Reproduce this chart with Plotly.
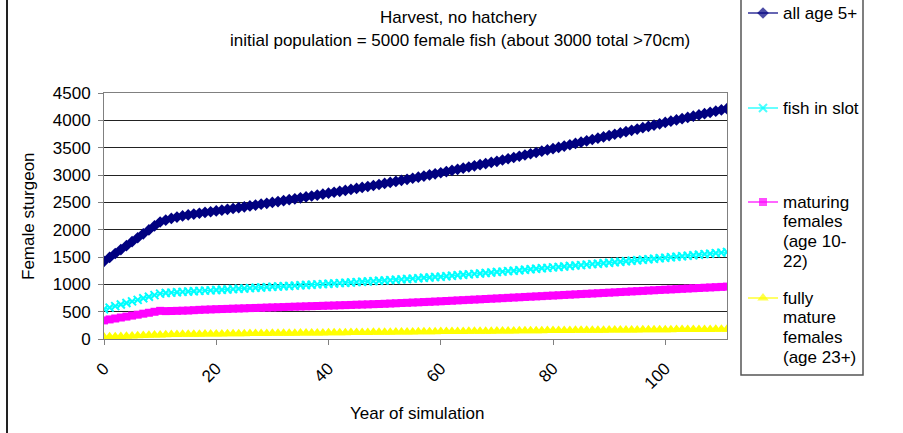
import plotly.graph_objects as go

W, H = 903, 433

# ---------------- data ----------------
years = list(range(112))

all_age5 = [
    1420, 1492, 1564, 1636, 1708, 1780, 1852, 1924, 1996, 2068,
    2140, 2175, 2205, 2230, 2252, 2270, 2285, 2300, 2315, 2328,
    2342, 2357, 2372, 2387, 2402, 2418, 2434, 2450, 2466, 2482,
    2498, 2514, 2531, 2548, 2565, 2582, 2599, 2616, 2633, 2650,
    2667, 2684, 2701, 2718, 2736, 2754, 2772, 2790, 2808, 2826,
    2845, 2864, 2883, 2902, 2921, 2941, 2961, 2981, 3001, 3021,
    3041, 3062, 3083, 3104, 3125, 3146, 3167, 3188, 3209, 3230,
    3251, 3274, 3297, 3320, 3343, 3366, 3389, 3412, 3435, 3458,
    3481, 3505, 3529, 3553, 3577, 3601, 3625, 3649, 3673, 3697,
    3721, 3745, 3769, 3793, 3817, 3841, 3865, 3889, 3913, 3937,
    3961, 3984, 4007, 4030, 4053, 4076, 4099, 4122, 4145, 4168,
    4191, 4214,
]

fish_in_slot = [
    545, 574, 602, 631, 659, 688, 716, 745, 773, 802,
    830, 840, 848, 855, 862, 868, 874, 880, 885, 890,
    895, 901, 907, 913, 919, 925, 931, 937, 943, 949,
    955, 960, 966, 971, 977, 982, 988, 993, 999, 1004,
    1010, 1016, 1022, 1028, 1034, 1040, 1046, 1052, 1058, 1064,
    1070, 1077, 1084, 1091, 1098, 1105, 1112, 1119, 1126, 1133,
    1140, 1148, 1157, 1165, 1174, 1182, 1191, 1199, 1208, 1216,
    1225, 1233, 1242, 1250, 1259, 1267, 1276, 1284, 1293, 1301,
    1310, 1318, 1327, 1335, 1344, 1352, 1361, 1369, 1378, 1386,
    1395, 1404, 1413, 1422, 1431, 1440, 1449, 1458, 1467, 1476,
    1485, 1495, 1504, 1514, 1523, 1533, 1542, 1552, 1561, 1571,
    1580, 1590,
]

maturing_females = [
    340, 358, 375, 393, 410, 428, 445, 463, 480, 498,
    515, 510, 512, 515, 518, 521, 527, 533, 537, 541,
    545, 548, 551, 555, 558, 561, 565, 568, 571, 575,
    578, 581, 584, 588, 591, 594, 597, 601, 604, 607,
    610, 613, 617, 620, 623, 627, 630, 633, 637, 640,
    644, 649, 653, 658, 662, 667, 671, 676, 680, 685,
    690, 695, 700, 706, 711, 716, 721, 726, 732, 737,
    742, 747, 753, 758, 763, 769, 774, 779, 784, 790,
    795, 800, 806, 811, 816, 822, 827, 832, 837, 843,
    848, 853, 859, 864, 870, 875, 880, 886, 891, 897,
    902, 907, 912, 918, 923, 928, 933, 938, 943, 948,
    953, 958,
]

fully_mature = [
    35, 39, 43, 47, 51, 55, 59, 63, 67, 71,
    75, 78, 81, 83, 85, 86, 87, 89, 90, 91,
    92, 93, 94, 95, 97, 98, 99, 100, 101, 102,
    103, 104, 105, 106, 107, 108, 109, 110, 111, 112,
    113, 114, 115, 116, 117, 118, 120, 121, 122, 123,
    124, 125, 126, 127, 128, 129, 131, 132, 133, 134,
    135, 136, 137, 138, 139, 140, 141, 142, 143, 144,
    145, 146, 147, 148, 149, 150, 151, 152, 153, 154,
    155, 156, 157, 157, 158, 159, 160, 161, 161, 162,
    163, 164, 164, 165, 166, 166, 167, 168, 168, 169,
    170, 171, 172, 172, 173, 174, 175, 175, 176, 177,
    177, 178,
]

legend_labels = [
    ["all age 5+"],
    ["fish in slot"],
    ["maturing", "females", "(age 10-", "22)"],
    ["fully", "mature", "females", "(age 23+)"],
]

x_tick_vals = [0, 20, 40, 60, 80, 100]
y_tick_vals = [0, 500, 1000, 1500, 2000, 2500, 3000, 3500, 4000, 4500]

title_line1 = "Harvest, no hatchery"
title_line2 = "initial population = 5000 female fish (about 3000 total >70cm)"
x_title = "Year of simulation"
y_title = "Female sturgeon"

# ---------------- styles / layout ----------------
FONT = "Liberation Sans, Arial, sans-serif"
FS = 17
styles = [
    dict(color="#000080", symbol="diamond", size=9, lw=1),
    dict(color="#00FFFF", symbol="x-thin", size=8, lw=1),
    dict(color="#FF00FF", symbol="square", size=8, lw=1),
    dict(color="#FFFF00", symbol="triangle-up", size=10, lw=1),
]
series = [all_age5, fish_in_slot, maturing_females, fully_mature]

PLOT_L, PLOT_R, PLOT_T, PLOT_B = 104, 727, 93, 339


def fx(p):
    return p / W


def fy(p):
    return 1 - p / H


fig = go.Figure()

for vals, st, lab in zip(series, styles, legend_labels):
    marker = dict(symbol=st["symbol"], size=st["size"], color=st["color"],
                  line=dict(color=st["color"], width=2 if st["symbol"] == "x-thin" else 0))
    fig.add_trace(go.Scatter(
        x=years, y=vals, mode="lines+markers", name=" ".join(lab),
        line=dict(color=st["color"], width=st["lw"]), marker=marker,
        showlegend=False, xaxis="x", yaxis="y",
    ))

# manual legend (overlay axes in pixel units)
LEG_L, LEG_R, LEG_B = 741, 863, 375
sample_x0, sample_x1, text_x = 748, 778, 781
item_y = [13, 108, 202, 298]
line_gap = 19.8
for st, lab, yy in zip(styles, legend_labels, item_y):
    marker = dict(symbol=st["symbol"], size=[0, st["size"], 0], color=st["color"],
                  line=dict(color=st["color"], width=2 if st["symbol"] == "x-thin" else 0))
    fig.add_trace(go.Scatter(
        x=[sample_x0, (sample_x0 + sample_x1) / 2, sample_x1], y=[yy, yy, yy],
        mode="lines+markers", line=dict(color=st["color"], width=1.2), marker=marker,
        showlegend=False, hoverinfo="skip", xaxis="x2", yaxis="y2", cliponaxis=False,
    ))
    for k, txt in enumerate(lab):
        fig.add_annotation(x=fx(text_x), y=fy(yy + k * line_gap), xref="paper", yref="paper",
                           text=txt, showarrow=False, xanchor="left", yanchor="middle",
                           font=dict(family=FONT, size=FS, color="black"))

fig.add_shape(type="rect", xref="paper", yref="paper",
              x0=fx(LEG_L), x1=fx(LEG_R), y0=fy(LEG_B), y1=1.1,
              line=dict(color="#555555", width=1.5), fillcolor="rgba(0,0,0,0)", layer="above")
# outer chart border
fig.add_shape(type="rect", xref="paper", yref="paper",
              x0=fx(7), x1=1.1, y0=-0.1, y1=1.1,
              line=dict(color="#222222", width=2), fillcolor="rgba(0,0,0,0)", layer="above")

# titles
fig.add_annotation(x=fx(458), y=fy(18), xref="paper", yref="paper", text=title_line1,
                   showarrow=False, xanchor="center", yanchor="middle",
                   font=dict(family=FONT, size=FS, color="black"))
fig.add_annotation(x=fx(460), y=fy(40), xref="paper", yref="paper", text=title_line2,
                   showarrow=False, xanchor="center", yanchor="middle",
                   font=dict(family=FONT, size=FS, color="black"))
fig.add_annotation(x=fx(417), y=fy(413), xref="paper", yref="paper", text=x_title,
                   showarrow=False, xanchor="center", yanchor="middle",
                   font=dict(family=FONT, size=FS, color="black"))
fig.add_annotation(x=fx(28), y=fy(216), xref="paper", yref="paper", text=y_title,
                   showarrow=False, xanchor="center", yanchor="middle", textangle=-90,
                   font=dict(family=FONT, size=FS, color="black"))

fig.update_layout(
    width=W, height=H,
    margin=dict(l=0, r=0, t=0, b=0),
    paper_bgcolor="white", plot_bgcolor="rgba(0,0,0,0)",
    font=dict(family=FONT, size=FS, color="black"),
    showlegend=False,
    xaxis=dict(domain=[fx(PLOT_L), fx(PLOT_R)], range=[0, 111], tickvals=x_tick_vals,
               tickangle=-45, ticks="outside", ticklen=5, tickcolor="#808080",
               ticklabelstandoff=7,
               showline=True, linecolor="#808080", linewidth=1, mirror=True,
               showgrid=False, zeroline=False, automargin=False, anchor="y",
               tickfont=dict(family=FONT, size=FS, color="black")),
    yaxis=dict(domain=[fy(PLOT_B), fy(PLOT_T)], range=[0, 4500], tickvals=y_tick_vals,
               ticks="outside", ticklen=5, tickcolor="#808080",
               ticklabelstandoff=4,
               showline=True, linecolor="#808080", linewidth=1, mirror=True,
               showgrid=True, gridcolor="#222222", gridwidth=1, zeroline=False,
               automargin=False, anchor="x",
               tickfont=dict(family=FONT, size=FS, color="black")),
    xaxis2=dict(domain=[0, 1], range=[0, W], visible=False, anchor="y2", fixedrange=True),
    yaxis2=dict(domain=[0, 1], range=[H, 0], visible=False, anchor="x2", fixedrange=True),
)

fig.write_html(
    "out.html",
    config={"displayModeBar": False, "staticPlot": True},
    post_script="document.body.style.margin='0';document.body.style.overflow='hidden';",
)
